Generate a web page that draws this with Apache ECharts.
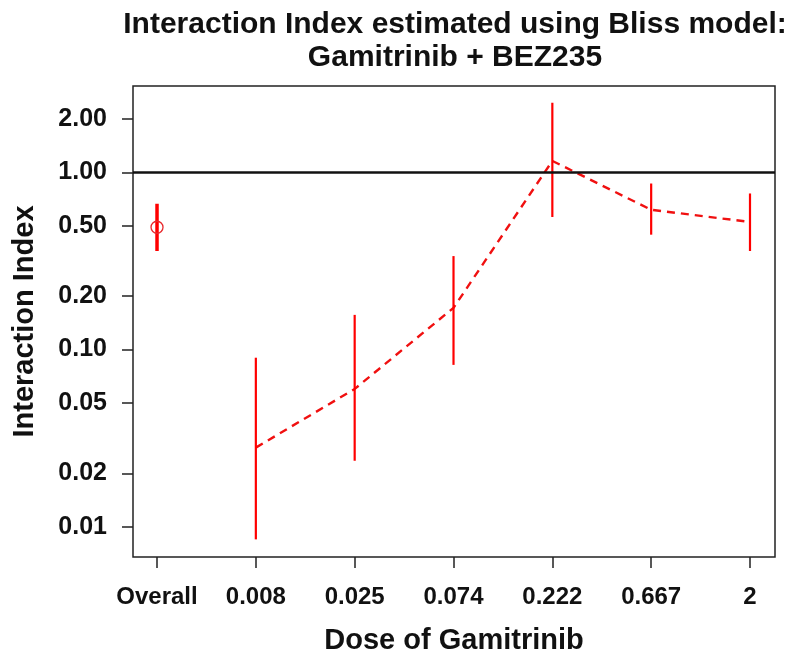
<!DOCTYPE html>
<html>
<head>
<meta charset="utf-8">
<script src="https://cdn.jsdelivr.net/npm/echarts@6/dist/echarts.min.js"></script>
<style>
html,body{margin:0;padding:0;background:#fff;}
#chart{width:790px;height:660px;}
</style>
</head>
<body>
<div id="chart"></div>
<script>
// ---- data ----
const categories = ['Overall', '0.008', '0.025', '0.074', '0.222', '0.667', '2'];
const estimate = [0.49, 0.028, 0.060, 0.172, 1.16, 0.615, 0.525];
const lower    = [0.36, 0.0085, 0.0236, 0.082, 0.56, 0.445, 0.36];
const upper    = [0.665, 0.090, 0.157, 0.337, 2.47, 0.865, 0.76];
const yTicks = [0.01, 0.02, 0.05, 0.10, 0.20, 0.50, 1.00, 2.00];
const referenceLevel = 1;
const titleLines = ['Interaction Index estimated using Bliss model:', 'Gamitrinib + BEZ235'];

// ---- build ----
const xIdx = categories.map((c, i) => i);
const overallBar = [[0, lower[0], upper[0]]];
const doseBars = xIdx.slice(1).map(i => [i, lower[i], upper[i]]);
const doseLine = xIdx.slice(1).map(i => [i, estimate[i]]);
const overallPoint = [[0, estimate[0]]];

const FONT = '"Liberation Sans", Arial, Helvetica, sans-serif';
const RED = '#ff0000';

function barRenderer(width) {
  return function (params, api) {
    const x = api.value(0);
    const p1 = api.coord([x, api.value(1)]);
    const p2 = api.coord([x, api.value(2)]);
    return {
      type: 'line',
      shape: { x1: p1[0], y1: p1[1], x2: p2[0], y2: p2[1] },
      style: { stroke: RED, lineWidth: width }
    };
  };
}

function circleRenderer(params, api) {
  const p = api.coord([api.value(0), api.value(1)]);
  return {
    type: 'circle',
    shape: { cx: p[0], cy: p[1], r: 6 },
    style: { fill: 'none', stroke: '#e8282c', lineWidth: 1.3 }
  };
}

const chart = echarts.init(document.getElementById('chart'), null, { renderer: 'canvas' });
chart.setOption({
  animation: false,
  backgroundColor: '#fff',
  graphic: [{
    type: 'text',
    x: 455, y: 8,
    style: {
      text: titleLines.join('\n'),
      textAlign: 'center',
      textVerticalAlign: 'top',
      fontFamily: FONT, fontWeight: 'bold', fontSize: 30, lineHeight: 33,
      fill: '#111'
    }
  }],
  grid: {
    left: 133, right: 15, top: 86, bottom: 101,
    show: true, borderColor: '#222', borderWidth: 1.5, backgroundColor: 'transparent',
    containLabel: false
  },
  xAxis: {
    type: 'value',
    min: -0.243, max: 6.253,
    name: 'Dose of Gamitrinib',
    nameLocation: 'middle',
    nameGap: 69,
    nameTextStyle: { fontFamily: FONT, fontWeight: 'bold', fontSize: 29, color: '#111' },
    axisLine: { show: false, onZero: false },
    splitLine: { show: false },
    axisTick: { show: true, length: 11, customValues: xIdx, lineStyle: { color: '#222', width: 1.5 } },
    axisLabel: {
      customValues: xIdx,
      formatter: v => categories[Math.round(v)],
      margin: 28,
      fontFamily: FONT, fontWeight: 'bold', fontSize: 24, color: '#111'
    }
  },
  yAxis: {
    type: 'log',
    logBase: 10,
    min: 0.00676, max: 3.07,
    name: 'Interaction Index',
    nameLocation: 'middle',
    nameGap: 94,
    nameTextStyle: { fontFamily: FONT, fontWeight: 'bold', fontSize: 29, color: '#111' },
    axisLine: { show: false, onZero: false },
    splitLine: { show: false },
    minorTick: { show: false },
    axisTick: { show: true, length: 11, customValues: yTicks, lineStyle: { color: '#222', width: 1.5 } },
    axisLabel: {
      customValues: yTicks,
      formatter: v => Number(v).toFixed(2),
      margin: 26,
      fontFamily: FONT, fontWeight: 'bold', fontSize: 25, color: '#111'
    }
  },
  series: [
    {
      type: 'line',
      data: doseLine,
      showSymbol: false,
      symbol: 'none',
      lineStyle: { color: '#f01010', width: 2.4, type: [8, 6] },
      z: 3,
      markLine: {
        silent: true,
        symbol: 'none',
        label: { show: false },
        lineStyle: { color: '#111', width: 2.5, type: 'solid' },
        data: [{ yAxis: referenceLevel }]
      }
    },
    {
      type: 'custom',
      renderItem: barRenderer(2.2),
      encode: { x: 0, y: [1, 2] },
      data: doseBars,
      z: 4
    },
    {
      type: 'custom',
      renderItem: barRenderer(3.5),
      encode: { x: 0, y: [1, 2] },
      data: overallBar,
      z: 4
    },
    {
      type: 'custom',
      renderItem: circleRenderer,
      encode: { x: 0, y: 1 },
      data: overallPoint,
      z: 5
    }
  ]
});
</script>
</body>
</html>
